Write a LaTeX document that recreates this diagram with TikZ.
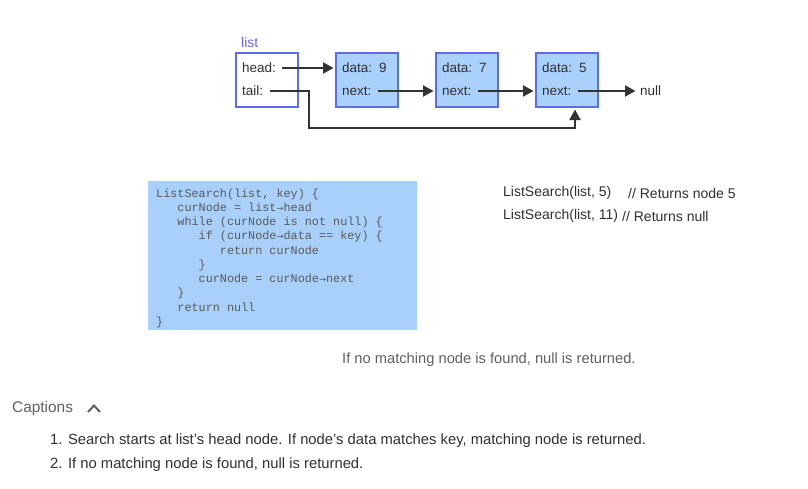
\documentclass[tikz,border=0pt]{standalone}
\usepackage{fontspec}
\setmainfont{Liberation Sans}
\newfontfamily\codefont{Liberation Mono}
\newfontfamily\arrfont{DejaVu Sans}
\usetikzlibrary{arrows.meta}

\definecolor{nodefill}{HTML}{AAD0FC}
\definecolor{nodeborder}{HTML}{5B6EE6}
\definecolor{listblue}{HTML}{6A6AF0}
\definecolor{arrowgray}{HTML}{333333}
\definecolor{codefill}{HTML}{A8D0FB}
\definecolor{codetext}{HTML}{5A5A5A}
\definecolor{darktext}{HTML}{303030}
\definecolor{graytext}{HTML}{606060}

\newcommand{\carr}{\makebox[7.08pt]{\arrfont\fontsize{8.5}{8.5}\selectfont →}}
\newcommand{\ind}[1]{\hspace*{\dimexpr #1\dimexpr 7.08pt\relax\relax}}

\begin{document}
\begin{tikzpicture}[x=1pt,y=-1pt,
  lbox/.style={draw=nodeborder, line width=2pt, minimum width=62pt, minimum height=54pt, inner sep=0},
  dbox/.style={lbox, fill=nodefill},
  ntxt/.style={anchor=west, font=\fontsize{13.5}{16}\selectfont, text=darktext, inner sep=0},
  ptr/.style={draw=arrowgray, line width=2pt, -{Triangle[length=10.5pt,width=11pt]}, shorten >=1.5pt},
  code/.style={anchor=base west, font=\codefont\fontsize{11.8}{14}\selectfont, text=codetext, inner sep=0},
  rtxt/.style={anchor=west, font=\fontsize{14}{16}\selectfont, text=darktext, inner sep=0},
  ctxt/.style={anchor=west, font=\fontsize{14.8}{17}\selectfont, text=darktext, inner sep=0},
]
\path[fill=white] (0,0) rectangle (808,488);
\useasboundingbox (0,0) rectangle (808,488);

% list and nodes
\node[anchor=west, font=\fontsize{14}{16}\selectfont, text=listblue, inner sep=0] (lbl) at (241,42) {list};
\node[lbox] (lst) at (266.5,80) {};
\node[dbox] (n9) at (367,80) {};
\node[dbox] (n7) at (467,80) {};
\node[dbox] (n5) at (567,80) {};

\node[ntxt] (head) at (242,68) {head:};
\node[ntxt] (tail) at (242,91) {tail:};
\node[ntxt] (d9) at (342,68) {data:\hspace{7pt}9};
\node[ntxt] (x9) at (342,91) {next:};
\node[ntxt] (d7) at (442,68) {data:\hspace{7pt}7};
\node[ntxt] (x7) at (442,91) {next:};
\node[ntxt] (d5) at (542,68) {data:\hspace{7pt}5};
\node[ntxt] (x5) at (542,91) {next:};
\node[ntxt] (null) at (640,91) {null};

\coordinate (hs) at (282,68);
\coordinate (ts) at (270,91);
\coordinate (s9) at (378,91);
\coordinate (s7) at (478,91);
\coordinate (s5) at (578,91);
\coordinate (tb) at (309,128);

\draw[ptr] (hs) -- (hs -| n9.west);
\draw[ptr] (s9) -- (s9 -| n7.west);
\draw[ptr] (s7) -- (s7 -| n5.west);
\draw[ptr] (s5) -- ([xshift=-3pt]null.west);
\draw[ptr] (ts) -| (tb) -| ([xshift=8pt]n5.south);

% code box
\node[fill=codefill, minimum width=269pt, minimum height=149pt, inner sep=0] (cbox) at (282.5,255.5) {};
\node[code] (c1) at (156,197) {ListSearch(list, key) \{};
\node[code] (c2) at (156,211.25) {\ind{3}curNode = list\carr head};
\node[code] (c3) at (156,225.5) {\ind{3}while (curNode is not null) \{};
\node[code] (c4) at (156,239.75) {\ind{6}if (curNode\carr data == key) \{};
\node[code] (c5) at (156,254) {\ind{9}return curNode};
\node[code] (c6) at (156,268.25) {\ind{6}\}};
\node[code] (c7) at (156,282.5) {\ind{6}curNode = curNode\carr next};
\node[code] (c8) at (156,296.75) {\ind{3}\}};
\node[code] (c9) at (156,311) {\ind{3}return null};
\node[code] (c10) at (156,325.25) {\}};

% right examples
\node[rtxt] (e1) at (503,193) {ListSearch(list, 5)};
\node[rtxt] (e1c) at (628,193) {// Returns node 5};
\node[rtxt] (e2) at (503,216) {ListSearch(list, 11)};
\node[rtxt] (e2c) at (622,216) {// Returns null};

% caption
\node[anchor=west, font=\fontsize{14.7}{17}\selectfont, text=graytext, inner sep=0] (cap) at (342,360) {If no matching node is found, null is returned.};

% captions list
\node[anchor=west, font=\fontsize{15.4}{18}\selectfont, text=graytext, inner sep=0] (caps) at (12,409) {Captions};
\coordinate (ch1) at (88,412);
\coordinate (ch2) at (94,405.5);
\coordinate (ch3) at (100,412);
\draw[graytext, line width=2pt] (ch1) -- (ch2) -- (ch3);

\node[ctxt] (i1) at (50,441) {1. Search starts at list's head node. If node's data matches key, matching node is returned.};
\node[ctxt] (i2) at (50,465) {2. If no matching node is found, null is returned.};
\end{tikzpicture}
\end{document}
